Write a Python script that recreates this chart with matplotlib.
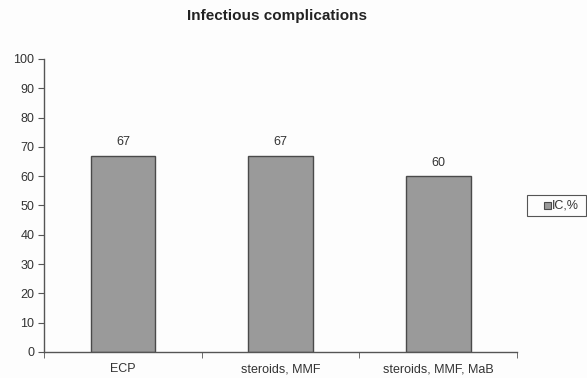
import matplotlib
matplotlib.use("Agg")
import matplotlib.pyplot as plt
from matplotlib.patches import Rectangle
from matplotlib.ticker import FixedLocator
import numpy as np

plt.rcParams['font.family'] = ['Liberation Sans', 'DejaVu Sans']

categories = ["ECP", "steroids, MMF", "steroids, MMF, MaB"]
values = [67, 67, 60]
series_name = "IC,%"
title = "Infectious complications"

bar_color = "#9a9a9a"
edge_color = "#4a4a4a"

fig = plt.figure(figsize=(5.87, 3.78), dpi=100, facecolor="#fdfdfd")
ax = fig.add_axes([0.075, 0.069, 0.806, 0.775], facecolor="#fdfdfd")

x = np.arange(len(categories))
ax.bar(x, values, width=0.41, color=bar_color, edgecolor=edge_color,
       linewidth=1.0, label=series_name)
for xi, v in zip(x, values):
    ax.text(xi, v + 2.5, str(v), ha="center", va="bottom", fontsize=9, color="#333333")

ax.set_xlim(-0.5, len(categories) - 0.5)
ax.set_ylim(0, 100)
ax.set_yticks(range(0, 101, 10))
ax.set_xticks(x)
ax.set_xticklabels(categories)
ax.xaxis.set_major_locator(FixedLocator(x))
ax.xaxis.set_minor_locator(FixedLocator(np.arange(-0.5, len(categories), 1.0)))
ax.tick_params(axis="x", which="major", length=0, pad=8, labelsize=9, labelcolor="#333333")
ax.tick_params(axis="x", which="minor", length=4, color="#555555", direction="out")
ax.tick_params(axis="y", length=4, color="#555555", labelsize=9, labelcolor="#333333", pad=3)

for s in ["top", "right"]:
    ax.spines[s].set_visible(False)
for s in ["left", "bottom"]:
    ax.spines[s].set_color("#555555")
    ax.spines[s].set_linewidth(1.0)

fig.text(0.472, 0.958, title, ha="center", va="center", fontsize=11,
         fontweight="bold", color="#222222")

# legend box drawn by hand (wide left padding like the original)
W, H = 587.0, 378.0
fig.patches.append(Rectangle((527 / W, 1 - 216 / H), 59 / W, 21 / H,
                             transform=fig.transFigure, facecolor="#fdfdfd",
                             edgecolor="#555555", linewidth=0.8))
fig.patches.append(Rectangle((544 / W, 1 - 209 / H), 7 / W, 7 / H,
                             transform=fig.transFigure, facecolor=bar_color,
                             edgecolor=edge_color, linewidth=0.8))
fig.text(552 / W, 1 - 205.5 / H, series_name, ha="left", va="center",
         fontsize=9, color="#333333")

fig.savefig("out.png", dpi=100, facecolor=fig.get_facecolor())
